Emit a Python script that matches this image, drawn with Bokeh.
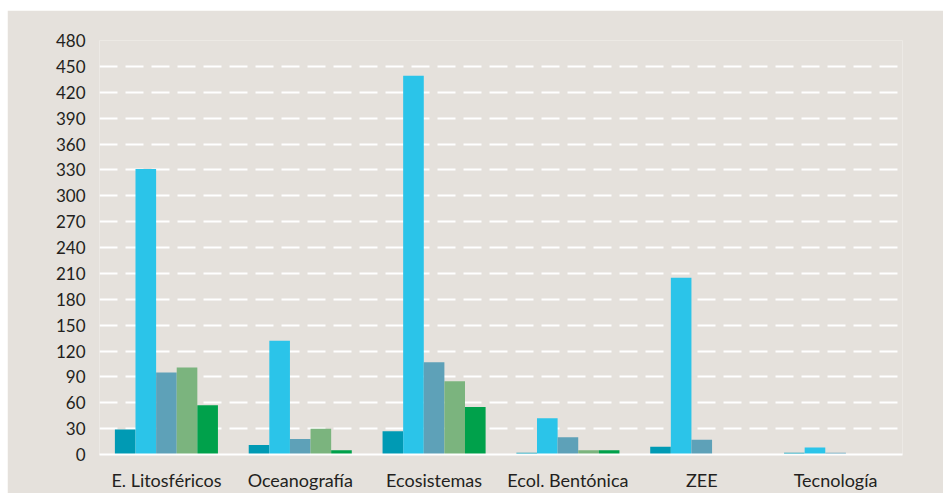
from bokeh.plotting import figure
from bokeh.layouts import column, row
from bokeh.models import FactorRange, SingleIntervalTicker, ColumnDataSource, Spacer
from bokeh.transform import dodge
from bokeh.embed import file_html
from bokeh.resources import INLINE

categories = ["E. Litosféricos", "Oceanografía", "Ecosistemas", "Ecol. Bentónica", "ZEE", "Tecnología"]
serie_1 = [29, 11, 27, 2, 9, 2]
serie_2 = [331, 132, 439, 42, 205, 8]
serie_3 = [95, 18, 107, 20, 17, 2]
serie_4 = [101, 30, 85, 5, 0, 0]
serie_5 = [57, 5, 55, 5, 0, 0]
y_ticks = list(range(0, 481, 30))

colors = ["#009AB4", "#2BC4E9", "#5EA1B8", "#7BB47E", "#00A14B"]
bg = "#E5E1DC"
txt = "#231F20"

src = ColumnDataSource(dict(cat=categories, s1=serie_1, s2=serie_2, s3=serie_3, s4=serie_4, s5=serie_5))

p = figure(width=936, height=483, x_range=FactorRange(*categories, range_padding=0),
           y_range=(0, 480), output_backend="svg", toolbar_location=None,
           min_border_left=92, min_border_right=41, min_border_top=30, min_border_bottom=37)
p.background_fill_color = bg
p.border_fill_color = bg
p.outline_line_color = None

w = 0.154
offs = [-2 * w, -w, 0, w, 2 * w]
for i, col in enumerate(["s1", "s2", "s3", "s4", "s5"]):
    p.vbar(x=dodge("cat", offs[i], range=p.x_range), top=col, width=w, source=src,
           fill_color=colors[i], line_color=None)

p.yaxis.ticker = SingleIntervalTicker(interval=30)
p.yaxis.axis_line_color = None
p.yaxis.major_tick_line_color = None
p.yaxis.minor_tick_line_color = None
p.yaxis.major_label_text_font = "Lato"
p.yaxis.major_label_text_font_size = "17px"
p.yaxis.major_label_text_color = txt
p.yaxis.major_label_standoff = 8

p.xaxis.axis_line_color = "white"
p.xaxis.axis_line_width = 2
p.xaxis.major_tick_line_color = None
p.xaxis.minor_tick_line_color = None
p.xaxis.major_label_text_font = "Lato"
p.xaxis.major_label_text_font_size = "18px"
p.xaxis.major_label_text_color = txt
p.xaxis.major_label_standoff = 8

p.xgrid.grid_line_color = None
p.ygrid.grid_line_color = "white"
p.ygrid.grid_line_width = 2
p.ygrid.grid_line_dash = "18 8"

layout = column(Spacer(width=943, height=10), row(Spacer(width=7, height=483), p), spacing=0)

open("out.html", "w").write(file_html(layout, INLINE))
